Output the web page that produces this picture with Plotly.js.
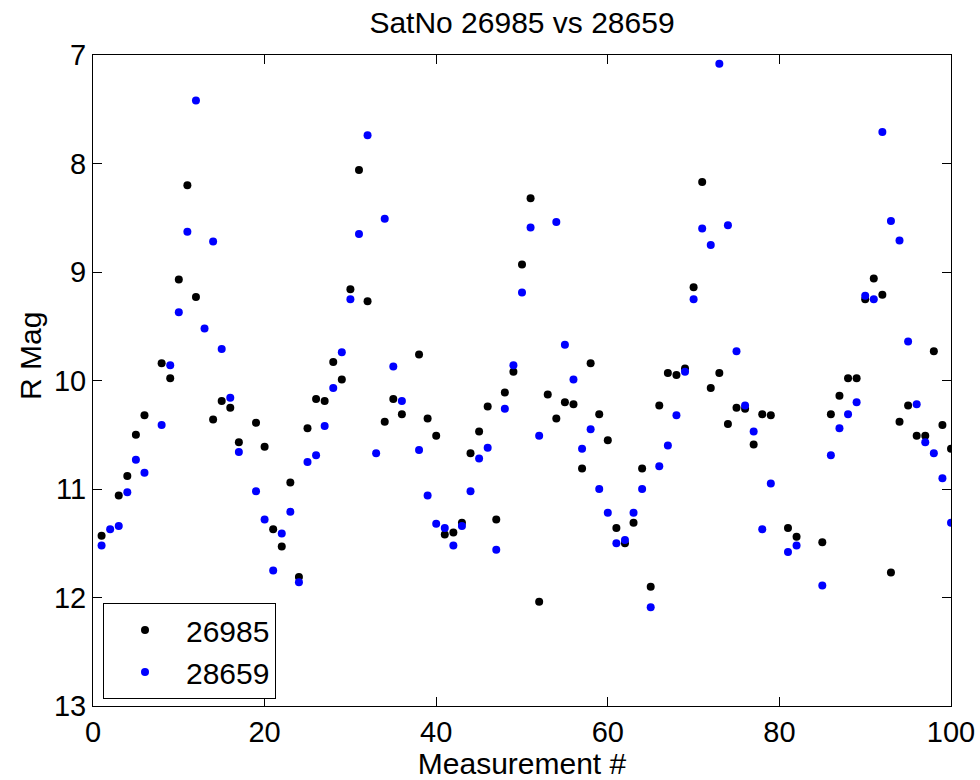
<!DOCTYPE html>
<html>
<head>
<meta charset="utf-8">
<script src="https://cdn.plot.ly/plotly-3.0.1.min.js"></script>
<style>html,body{margin:0;padding:0;background:#fff;}#chart{width:980px;height:780px;}</style>
</head>
<body>
<div id="chart"></div>
<script>
// Measurement numbers
const measurement = Array.from({length: 100}, (_, i) => i + 1);

// SatNo 26985 (black)
const sat26985 = [
  11.43, null, 11.06, 10.88, 10.50, 10.32, null, 9.84, 9.98, 9.07,
  8.20, 9.23, null, 10.36, 10.19, 10.25, 10.57, null, 10.39, 10.61,
  11.37, 11.53, 10.94, 11.81, 10.44, 10.17, 10.19, 9.83, 9.99, 9.16,
  8.06, 9.27, null, 10.38, 10.17, 10.31, null, 9.76, 10.35, 10.51,
  11.42, 11.40, 11.31, 10.67, 10.47, 10.24, 11.28, 10.11, 9.92, 8.93,
  8.32, 12.04, 10.13, 10.35, 10.20, 10.22, 10.81, 9.84, 10.31, 10.55,
  11.36, 11.50, 11.31, 10.81, 11.90, 10.23, 9.93, 9.95, 9.89, 9.14,
  8.17, 10.07, 9.93, 10.40, 10.25, 10.26, 10.59, 10.31, 10.32, null,
  11.36, 11.44, null, null, 11.49, 10.31, 10.14, 9.98, 9.98, 9.25,
  9.06, 9.21, 11.77, 10.38, 10.23, 10.51, 10.51, 9.73, 10.41, 10.63
];

// SatNo 28659 (blue)
const sat28659 = [
  11.52, 11.37, 11.34, 11.03, 10.73, 10.85, null, 10.41, 9.86, 9.37,
  8.63, 7.42, 9.52, 8.72, 9.71, 10.16, 10.66, null, 11.02, 11.28,
  11.75, 11.41, 11.21, 11.86, 10.75, 10.69, 10.42, 10.07, 9.74, 9.25,
  8.65, 7.74, 10.67, 8.51, 9.87, 10.19, null, 10.64, 11.06, 11.32,
  11.36, 11.52, 11.34, 11.02, 10.72, 10.62, 11.56, 10.26, 9.86, 9.19,
  8.59, 10.51, null, 8.54, 9.67, 9.99, 10.63, 10.45, 11.00, 11.22,
  11.50, 11.47, 11.22, 11.00, 12.09, 10.79, 10.60, 10.32, 9.92, 9.25,
  8.60, 8.75, 7.08, 8.57, 9.73, 10.23, 10.47, 11.37, 10.95, null,
  11.58, 11.52, null, null, 11.89, 10.69, 10.44, 10.31, 10.20, 9.22,
  9.25, 7.71, 8.53, 8.71, 9.64, 10.22, 10.57, 10.67, 10.90, 11.31
];

const seriesNames = ['26985', '28659'];
const xTicks = [0, 20, 40, 60, 80, 100];
const yTicks = [7, 8, 9, 10, 11, 12, 13];

const FONT = 'Liberation Sans, Arial, Helvetica, sans-serif';

const traces = [
  {x: measurement, y: sat26985, name: seriesNames[0], type: 'scatter', mode: 'markers',
   marker: {color: '#000000', size: 8}},
  {x: measurement, y: sat28659, name: seriesNames[1], type: 'scatter', mode: 'markers',
   marker: {color: '#0000ff', size: 8}}
];

const axisCommon = {
  showgrid: false, zeroline: false, showline: true, linecolor: '#000', linewidth: 1,
  mirror: 'ticks', ticks: 'inside', ticklen: 9, tickwidth: 1, tickcolor: '#000',
  tickfont: {family: FONT, size: 29, color: '#000'}
};

const layout = {
  width: 980, height: 780,
  margin: {l: 93, r: 29, t: 55, b: 74},
  paper_bgcolor: '#fff', plot_bgcolor: '#fff',
  font: {family: FONT, color: '#000'},
  title: {text: 'SatNo 26985 vs 28659', font: {family: FONT, size: 30, color: '#000'},
          x: 0.5, xref: 'paper', xanchor: 'center', y: 1 - 22/780, yanchor: 'middle', yref: 'container'},
  xaxis: Object.assign({}, axisCommon, {
    range: [0, 100], tickvals: xTicks, ticktext: xTicks.map(String),
    title: {text: 'Measurement #', font: {family: FONT, size: 30, color: '#000'}, standoff: 0}
  }),
  yaxis: Object.assign({}, axisCommon, {
    range: [13, 7], tickvals: yTicks, ticktext: yTicks.map(String)
  }),
  annotations: [{
    text: 'R Mag', xref: 'paper', yref: 'paper', x: (30 - 93) / 858, y: (706 - 356) / 651,
    xanchor: 'center', yanchor: 'middle', textangle: -90, showarrow: false,
    font: {family: FONT, size: 30, color: '#000'}
  }],
  showlegend: true,
  legend: {
    x: (103 - 93) / 858, y: (706 - 699) / 651, xanchor: 'left', yanchor: 'bottom',
    bgcolor: '#fff', bordercolor: '#000', borderwidth: 1,
    font: {family: FONT, size: 30, color: '#000'}, itemwidth: 72
  }
};

Plotly.newPlot('chart', traces, layout, {displayModeBar: false, staticPlot: true});
</script>
</body>
</html>
